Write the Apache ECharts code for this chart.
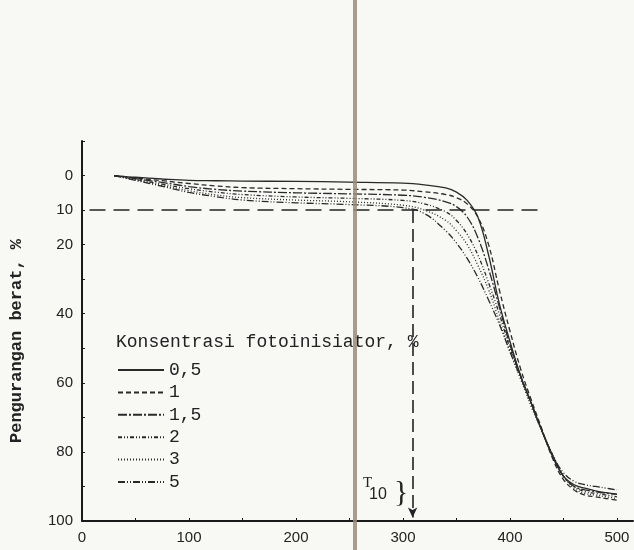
<!DOCTYPE html>
<html>
<head>
<meta charset="utf-8">
<script src="https://cdn.jsdelivr.net/npm/echarts@6/dist/echarts.min.js"></script>
<style>
  html, body { margin: 0; padding: 0; background: #f8f8f5; }
  #chart { width: 634px; height: 550px; }
</style>
</head>
<body>
<div id="chart"></div>
<script>
// suhu (x) dan pengurangan berat (%) per konsentrasi
var suhu = [30, 50, 75, 100, 125, 150, 200, 250, 300, 320, 340, 350, 360, 370, 380, 390, 400, 410, 420, 430, 440, 450, 460, 470, 480, 490, 500];
var konsentrasi = ['0,5', '1', '1,5', '2', '3', '5'];

var berat05 = [0, 0.5, 1.0, 1.4, 1.5, 1.6, 1.7, 1.9, 2.2, 2.7, 3.6, 4.8, 7.2, 12, 23, 37, 48, 58, 66, 74, 81.5, 87, 89.5, 90.5, 91.3, 91.8, 92.2];
var berat1 = [0, 0.7, 1.5, 2.3, 3.0, 3.5, 3.8, 4.0, 4.2, 4.7, 5.5, 6.4, 8.2, 12, 20, 33, 45, 56, 65, 73.5, 82, 88, 91, 92.5, 93, 93.5, 94];
var berat15 = [0, 0.9, 2.0, 3.2, 4.0, 4.5, 5.0, 5.3, 5.7, 6.3, 7.6, 9.0, 12, 18, 27, 38, 49, 58, 66, 74, 81, 87, 90, 91, 91.5, 92, 92.3];
var berat2 = [0, 1.1, 2.5, 3.8, 4.8, 5.5, 6.2, 6.6, 7.2, 8.2, 10.5, 13, 17, 23, 31, 40, 50, 58, 66, 74, 81, 87, 90, 91.5, 92, 92.5, 93];
var berat3 = [0, 1.3, 2.9, 4.4, 5.6, 6.4, 7.1, 7.6, 8.6, 10, 13, 16, 20, 26, 33, 42, 51, 59, 67, 74, 81, 87, 90.5, 92, 92.5, 93, 93.5];
var berat5 = [0, 1.4, 3.1, 4.9, 6.1, 7.1, 7.9, 8.4, 9.3, 11, 16, 19.5, 24, 29.5, 36, 43, 51, 58.5, 66, 74, 81, 86, 88.5, 89.5, 90, 90.5, 91];

var semuaBerat = [berat05, berat1, berat15, berat2, berat3, berat5];
var gayaGaris = ['solid', [5, 3], [9, 2, 2, 2], [4, 2, 1, 2, 1, 2], [1, 2], [7, 2, 1, 2, 1, 2]];

var yLabel = [0, 10, 20, 40, 60, 80, 100];
var xLabel = [0, 100, 200, 300, 400, 500];
var t10 = 309;

var chart = echarts.init(document.getElementById('chart'));

var seri = konsentrasi.map(function (nama, i) {
    return {
        name: nama,
        type: 'line',
        smooth: 0.4,
        symbol: 'none',
        legendIcon: 'none',
        data: suhu.map(function (x, j) { return [x, semuaBerat[i][j]]; }),
        lineStyle: { color: '#2a2a2a', width: 1.3, type: gayaGaris[i] },
        itemStyle: { color: '#2a2a2a' },
        z: 3
    };
});

// garis bantu T10
seri[0].markLine = {
    silent: true,
    symbol: ['none', 'none'],
    label: { show: false },
    lineStyle: { color: '#222', width: 1.5, type: [16, 8] },
    data: [
        [{ coord: [7, 10] }, { coord: [432, 10] }]
    ]
};
seri[1].markLine = {
    silent: true,
    symbol: ['none', 'arrow'],
    symbolSize: [7, 10],
    label: { show: false },
    lineStyle: { color: '#222', width: 1.6, type: [13, 6] },
    data: [
        [{ coord: [t10, 10] }, { coord: [t10, 99] }]
    ]
};

chart.setOption({
    backgroundColor: '#f8f8f5',
    animation: false,
    title: {
        text: 'Konsentrasi fotoinisiator, %',
        left: 111,
        top: 328,
        textStyle: { fontFamily: 'Liberation Mono', fontSize: 18, fontWeight: 'normal', color: '#222' }
    },
    legend: {
        orient: 'vertical',
        left: 112,
        top: 356,
        itemWidth: 46,
        itemHeight: 14,
        itemGap: 4.4,
        data: konsentrasi,
        itemStyle: { opacity: 0 },
        textStyle: { fontFamily: 'Liberation Mono', fontSize: 18, color: '#222' },
        selectedMode: false
    },
    grid: { left: 77, top: 141, width: 556, height: 380 },
    xAxis: {
        type: 'value',
        min: 0,
        max: 515,
        interval: 50,
        position: 'bottom',
        axisLine: { onZero: false, lineStyle: { color: '#1a1a1a', width: 2 } },
        axisTick: { inside: true, length: 3, lineStyle: { color: '#1a1a1a' } },
        splitLine: { show: false },
        axisLabel: {
            margin: 9,
            fontFamily: 'Liberation Sans',
            fontSize: 15,
            color: '#222',
            showMaxLabel: false,
            formatter: function (v) { return xLabel.indexOf(v) >= 0 ? String(v) : ''; }
        }
    },
    yAxis: {
        type: 'value',
        inverse: true,
        min: -10,
        max: 100,
        interval: 10,
        name: 'Pengurangan berat, %',
        nameLocation: 'middle',
        nameRotate: 90,
        nameGap: 57,
        nameTextStyle: { fontFamily: 'Liberation Mono', fontSize: 17, fontWeight: 'bold', color: '#222', padding: [0, 0, 0, -20] },
        axisLine: { lineStyle: { color: '#1a1a1a', width: 2 } },
        axisTick: { inside: true, length: 3, lineStyle: { color: '#1a1a1a' } },
        splitLine: { show: false },
        axisLabel: {
            margin: 9,
            fontFamily: 'Liberation Sans',
            fontSize: 15,
            color: '#222',
            formatter: function (v) { return yLabel.indexOf(v) >= 0 ? String(v) : ''; }
        }
    },
    graphic: [
        {
            type: 'text',
            left: 363,
            top: 476,
            style: { text: 'T', fontFamily: 'Liberation Serif', fontSize: 15, fill: '#222' }
        },
        {
            type: 'text',
            left: 369,
            top: 487,
            style: { text: '10', fontFamily: 'Liberation Sans', fontSize: 16, fill: '#222' }
        },
        {
            type: 'text',
            left: 394,
            top: 478,
            style: { text: '}', fontFamily: 'Liberation Serif', fontSize: 30, fill: '#222' }
        },
        {
            type: 'rect',
            left: 353,
            top: 0,
            z: 10,
            shape: { width: 4, height: 550 },
            style: { fill: '#9c8b7c', opacity: 0.85 }
        }
    ],
    series: seri
});

window.onresize = function () {
    chart.resize();
};
</script>
</body>
</html>
